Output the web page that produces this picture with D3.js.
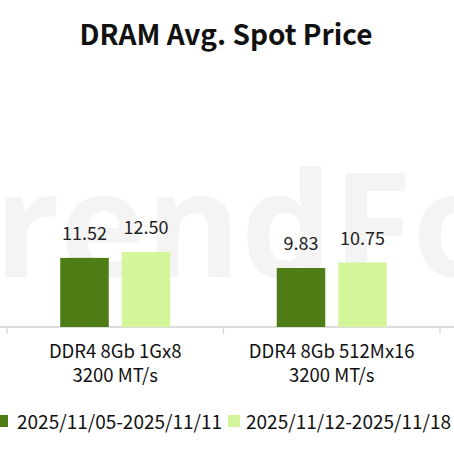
<!DOCTYPE html>
<html><head><meta charset="utf-8">
<script src="https://cdn.jsdelivr.net/npm/d3@7"></script>
<style>body{margin:0;background:#fff}svg{display:block}</style>
</head><body>
<script>
const title = "DRAM Avg. Spot Price";
const categories = [["DDR4 8Gb 1Gx8","3200 MT/s"],["DDR4 8Gb 512Mx16","3200 MT/s"]];
const seriesNames = ["2025/11/05-2025/11/11","2025/11/12-2025/11/18"];
const prevWeek = [11.52, 9.83];
const thisWeek = [12.50, 10.75];
const colors = ["#4e7d16","#d4f59a"];

const W = 454, H = 454;
const svg = d3.select("body").append("svg").attr("width",W).attr("height",H);
const font = "'Noto Sans CJK KR','Noto Sans',sans-serif";

// watermark
const wm = svg.append("text").attr("x",0).attr("y",277).text("TrendForce")
  .attr("font-family","'Open Sans',sans-serif").attr("font-weight",700).attr("font-size",145)
  .attr("fill","#f4f4f4");
const tW = wm.node().getSubStringLength(0,1);
wm.attr("x",-tW-6);

svg.append("text").attr("x",226).attr("y",45).attr("text-anchor","middle")
  .attr("font-family",font).attr("font-weight",700).attr("font-size",28)
  .attr("fill","#111").text(title);

const keys = categories.map(c=>c.join(" "));
const x0 = d3.scaleBand().domain(keys).range([7,440]).padding(0);
const x1 = d3.scaleBand().domain([0,1]).range([0,110]).paddingInner(0.211);
const y = d3.scaleLinear().domain([0,40]).range([327,87]);
const off = (x0.bandwidth()-110)/2;

const data = keys.map((k,i)=>({k, vals:[prevWeek[i], thisWeek[i]]}));

// axis
svg.append("line").attr("x1",0).attr("x2",W).attr("y1",y(0)).attr("y2",y(0))
  .attr("stroke","#d0d0d0").attr("stroke-width",1.5);
const ticks = keys.map(k=>x0(k)).concat([x0.range()[1]]);
svg.selectAll(".tk").data(ticks).join("line").attr("x1",d=>d).attr("x2",d=>d)
  .attr("y1",y(0)).attr("y2",y(0)+7).attr("stroke","#d0d0d0").attr("stroke-width",1.2);

const g = svg.selectAll(".grp").data(data).join("g")
  .attr("transform",d=>`translate(${x0(d.k)+off},0)`);
g.selectAll("rect").data(d=>d.vals.map((v,j)=>({v,j}))).join("rect")
  .attr("x",d=>x1(d.j)).attr("width",x1.bandwidth())
  .attr("y",d=>y(d.v)).attr("height",d=>y(0)-y(d.v)).attr("fill",d=>colors[d.j]);
g.selectAll(".val").data(d=>d.vals.map((v,j)=>({v,j}))).join("text")
  .attr("x",d=>x1(d.j)+x1.bandwidth()/2).attr("y",d=>y(d.v)-18)
  .attr("text-anchor","middle").attr("font-family",font).attr("font-size",18)
  .attr("fill","#222").text(d=>d.v.toFixed(2));

// category labels
categories.forEach((c,i)=>{
  const cx = x0(keys[i]) + x0.bandwidth()/2;
  c.forEach((line,li)=>{
    svg.append("text").attr("x",cx).attr("y",358+li*24).attr("text-anchor","middle")
      .attr("font-family",font).attr("font-weight",400).attr("font-size",18.5)
      .attr("fill","#111").text(line);
  });
});

// legend
const legX = [[-4,17],[228,246]];
seriesNames.forEach((s,i)=>{
  svg.append("rect").attr("x",legX[i][0]).attr("y",415).attr("width",12).attr("height",12)
    .attr("fill",colors[i]);
  svg.append("text").attr("x",legX[i][1]).attr("y",429).attr("font-family",font)
    .attr("font-size",19).attr("fill","#111").text(s);
});
</script>
</body></html>
